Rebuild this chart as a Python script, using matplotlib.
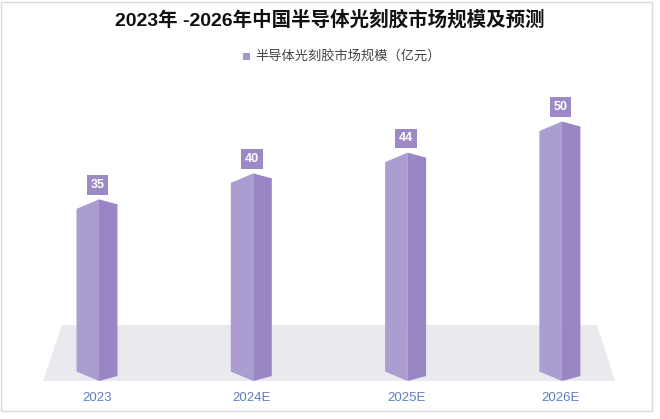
import matplotlib
matplotlib.use("Agg")
import matplotlib.pyplot as plt
from matplotlib.patches import Polygon, Rectangle

plt.rcParams['font.family'] = ['Liberation Sans', 'Noto Sans CJK SC', 'DejaVu Sans']

categories = ["2023", "2024E", "2025E", "2026E"]
values = [35, 40, 44, 50]
title = "2023年 -2026年中国半导体光刻胶市场规模及预测"
legend_label = "半导体光刻胶市场规模（亿元）"

W, H = 660, 419
fig = plt.figure(figsize=(W / 100, H / 100), dpi=100)
fig.patch.set_facecolor("white")

ax = fig.add_axes([0, 0, 1, 1])
# pixel mapping: x_px = 99 + 154.3*i ; y_px(from top) = 381 - 5.19*v
sx, x0 = 154.3, 99.0
sy, y0 = 5.19, 381.0
ax.set_xlim((0 - x0) / sx, (W - x0) / sx)
ax.set_ylim((y0 - H) / sy, y0 / sy)
ax.axis("off")

def px(xp, yp):
    return ((xp - x0) / sx, (y0 - yp) / sy)

# outer frame
ax.add_patch(Rectangle((0.0015, 0.02), 0.986, 0.975, transform=ax.transAxes,
                       fill=False, edgecolor="#d9d9d9", lw=1.0, zorder=0))

# floor
floor = [px(62, 325), px(597, 325), px(615, 381), px(43, 381)]
ax.add_patch(Polygon(floor, closed=True, facecolor="#e9e9ee", edgecolor="none", zorder=1))

lw_l = 22.5 / sx   # left face width (category units)
lw_r = 18.5 / sx   # right face width
dl = 9.5 / sy      # left corner drop (value units)
dr = 5.0 / sy      # right corner drop

for i, v in enumerate(values):
    left = [(i - lw_l, dl), (i, 0), (i, v), (i - lw_l, v - dl)]
    right = [(i, 0), (i + lw_r, dr), (i + lw_r, v - dr), (i, v)]
    ax.add_patch(Polygon(left, closed=True, facecolor="#ac9dd1", edgecolor="none", zorder=3))
    ax.add_patch(Polygon(right, closed=True, facecolor="#9a86c5", edgecolor="none", zorder=3))
    # value label box
    ax.text(i - 0.01, v + 2.75, str(v), ha="center", va="center", color="white",
            fontsize=9, fontweight="bold",
            bbox=dict(boxstyle="square,pad=0.3", facecolor="#9c89c6", edgecolor="none"),
            zorder=5)
    ax.text(i - 0.01, -3.3, categories[i], ha="center", va="center",
            color="#5f7ec1", fontsize=9.5, zorder=5)

fig.text(0.5, 1 - 20 / H, title, ha="center", va="center", fontsize=14,
         fontweight="bold", color="#111111")

# legend
fig.add_artist(Rectangle((243 / W, 1 - 60 / H), 7 / W, 7 / H, transform=fig.transFigure,
                         facecolor="#a596cb", edgecolor="none"))
fig.text(255 / W, 1 - 56 / H, legend_label, ha="left", va="center", fontsize=9.5,
         color="#444444")

fig.savefig("out.png", dpi=100)
